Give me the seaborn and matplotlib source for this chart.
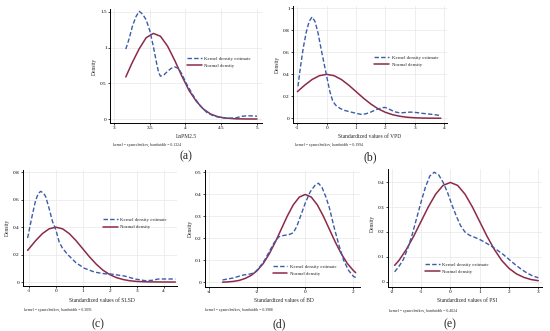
import numpy as np
import pandas as pd
import matplotlib
matplotlib.use("Agg")
import matplotlib.pyplot as plt
import seaborn as sns

sns.set_theme(style="white")
plt.rcParams['font.family'] = ['Liberation Serif', 'DejaVu Serif']

# ---------------- data ----------------
# (a) LnPM2.5
a_kde_x = [3.165, 3.21, 3.26, 3.31, 3.353, 3.4, 3.45, 3.5, 3.55, 3.6, 3.625, 3.65, 3.7, 3.75, 3.8, 3.85,
           3.9, 3.95, 4.0, 4.1, 4.2, 4.3, 4.4, 4.5, 4.6, 4.7, 4.8, 4.9, 5.0]
a_kde_y = [0.98, 1.12, 1.31, 1.44, 1.51, 1.47, 1.39, 1.24, 1.02, 0.76, 0.65, 0.60, 0.62, 0.67, 0.71, 0.73,
           0.71, 0.63, 0.52, 0.34, 0.19, 0.09, 0.04, 0.02, 0.01, 0.015, 0.04, 0.045, 0.04]
a_nor_x = [3.165, 3.25, 3.35, 3.45, 3.55, 3.65, 3.75, 3.85, 3.95, 4.05, 4.15, 4.25, 4.35, 4.45, 4.55,
           4.7, 4.85, 5.0]
a_nor_y = [0.59, 0.78, 0.98, 1.14, 1.20, 1.16, 1.02, 0.82, 0.60, 0.40, 0.25, 0.14, 0.07, 0.033, 0.014,
           0.003, 0.0005, 0.0]

# (b) VPD
b_kde_x = [-0.98, -0.9, -0.8, -0.7, -0.6, -0.5, -0.4, -0.3, -0.2, -0.1, 0.0, 0.1, 0.2, 0.3, 0.45, 0.6,
           0.8, 1.0, 1.2, 1.35, 1.5, 1.7, 1.9, 2.0, 2.15, 2.3, 2.5, 2.7, 2.85, 3.0, 3.25, 3.5, 3.7, 3.89]
b_kde_y = [0.29, 0.46, 0.64, 0.78, 0.88, 0.92, 0.88, 0.78, 0.64, 0.51, 0.38, 0.25, 0.16, 0.12, 0.09, 0.072,
           0.058, 0.045, 0.034, 0.042, 0.056, 0.08, 0.097, 0.098, 0.08, 0.06, 0.048, 0.053, 0.056, 0.054,
           0.045, 0.038, 0.032, 0.024]
b_nor_x = [-1.0, -0.75, -0.5, -0.25, 0.0, 0.25, 0.5, 0.75, 1.0, 1.25, 1.5, 1.75, 2.0, 2.25, 2.5, 2.75,
           3.0, 3.25, 3.5, 3.89]
b_nor_y = [0.242, 0.301, 0.352, 0.387, 0.399, 0.387, 0.352, 0.301, 0.242, 0.183, 0.130, 0.086, 0.054,
           0.032, 0.018, 0.009, 0.0044, 0.002, 0.0009, 0.0002]

# (c) SLSD
c_kde_x = [-1.05, -0.875, -0.75, -0.65, -0.56, -0.45, -0.375, -0.25, -0.125, 0.0, 0.125, 0.25, 0.44, 0.75,
           1.06, 1.44, 1.81, 2.06, 2.56, 2.94, 3.31, 3.56, 3.81, 4.44]
c_kde_y = [0.32, 0.487, 0.595, 0.645, 0.66, 0.645, 0.62, 0.535, 0.44, 0.38, 0.29, 0.245, 0.20, 0.14,
           0.10, 0.072, 0.06, 0.058, 0.043, 0.022, 0.01, 0.012, 0.022, 0.022]
c_nor_x = [-1.05, -0.75, -0.5, -0.25, 0.0, 0.25, 0.5, 0.75, 1.0, 1.25, 1.5, 1.75, 2.0, 2.25, 2.5, 2.75,
           3.0, 3.25, 3.5, 4.0, 4.44]
c_nor_y = [0.230, 0.301, 0.352, 0.387, 0.399, 0.387, 0.352, 0.301, 0.242, 0.183, 0.130, 0.086, 0.054,
           0.032, 0.018, 0.009, 0.0044, 0.002, 0.0009, 0.0001, 0.0]

# (d) BD
d_kde_x = [-3.45, -3.0, -2.6, -2.3, -2.1, -1.9, -1.7, -1.5, -1.3, -1.1, -0.9, -0.7, -0.5, -0.35, -0.2,
           0.0, 0.2, 0.4, 0.55, 0.7, 0.85, 1.0, 1.2, 1.4, 1.6, 1.8, 2.0, 2.1]
d_kde_y = [0.011, 0.02, 0.033, 0.038, 0.045, 0.07, 0.10, 0.14, 0.18, 0.207, 0.213, 0.216, 0.225, 0.255,
           0.30, 0.36, 0.41, 0.44, 0.45, 0.43, 0.39, 0.34, 0.25, 0.17, 0.10, 0.055, 0.028, 0.022]
d_nor_x = [-3.45, -3.25, -3.0, -2.75, -2.5, -2.25, -2.0, -1.75, -1.5, -1.25, -1.0, -0.75, -0.5, -0.25,
           0.0, 0.25, 0.5, 0.75, 1.0, 1.25, 1.5, 1.75, 2.0, 2.1]
d_nor_y = [0.001, 0.002, 0.0044, 0.009, 0.018, 0.032, 0.054, 0.086, 0.130, 0.183, 0.242, 0.301, 0.352,
           0.387, 0.399, 0.387, 0.352, 0.301, 0.242, 0.183, 0.130, 0.086, 0.054, 0.044]

# (e) PSI
e_kde_x = [-1.9, -1.75, -1.6, -1.45, -1.3, -1.15, -1.0, -0.85, -0.7, -0.55, -0.4, -0.25, -0.1, 0.05,
           0.2, 0.35, 0.5, 0.65, 0.8, 1.0, 1.2, 1.4, 1.6, 1.8, 2.0, 2.2, 2.4, 2.6, 2.8, 3.0]
e_kde_y = [0.04, 0.062, 0.09, 0.135, 0.19, 0.255, 0.32, 0.38, 0.425, 0.44, 0.43, 0.40, 0.36, 0.31,
           0.265, 0.225, 0.20, 0.187, 0.18, 0.17, 0.157, 0.143, 0.127, 0.11, 0.09, 0.07, 0.052, 0.036,
           0.024, 0.016]
e_nor_x = [-1.9, -1.75, -1.5, -1.25, -1.0, -0.75, -0.5, -0.25, 0.0, 0.25, 0.5, 0.75, 1.0, 1.25, 1.5,
           1.75, 2.0, 2.25, 2.5, 2.75, 3.0]
e_nor_y = [0.066, 0.086, 0.130, 0.183, 0.242, 0.301, 0.352, 0.387, 0.399, 0.387, 0.352, 0.301, 0.242,
           0.183, 0.130, 0.086, 0.054, 0.032, 0.018, 0.009, 0.0044]

xlabels = ["LnPM2.5", "Standardized values of VPD", "Standardized values of SLSD",
           "Standardized values of BD", "Standardized values of PSI"]
bandwidths = ["0.1324", "0.1994", "0.3091", "0.3988", "0.4024"]
captions = ["(a)", "(b)", "(c)", "(d)", "(e)"]
legend_labels = ["Kernel density estimate", "Normal density"]

W, H = 550, 331
fig = plt.figure(figsize=(W / 100, H / 100), dpi=100)
fig.patch.set_facecolor("white")

KDE_COLOR = "#3c5ca8"
NOR_COLOR = "#8c2a48"

panels = [
    dict(kde=(a_kde_x, a_kde_y), nor=(a_nor_x, a_nor_y), box=(110, 262, 9, 123),
         xlim=(2.944, 5.07), ylim=(-0.056, 1.542), xt=[3, 3.5, 4, 4.5, 5], yt=[0, 0.5, 1, 1.5],
         ylab=(94, 66), xlab=(186, 137), note=(113, 145), cap=(186, 156), leg=(187, 62)),
    dict(kde=(b_kde_x, b_kde_y), nor=(b_nor_x, b_nor_y), box=(293, 447, 6, 123),
         xlim=(-1.15, 4.10), ylim=(-0.043, 1.02), xt=[-1, 0, 1, 2, 3, 4], yt=[0, 0.2, 0.4, 0.6, 0.8, 1],
         ylab=(277, 64), xlab=(370, 136), note=(295, 145), cap=(370, 157), leg=(374, 61)),
    dict(kde=(c_kde_x, c_kde_y), nor=(c_nor_x, c_nor_y), box=(23, 177, 170, 286),
         xlim=(-1.22, 4.5), ylim=(-0.029, 0.815), xt=[-1, 0, 1, 2, 3, 4], yt=[0, 0.2, 0.4, 0.6, 0.8],
         ylab=(7, 227), xlab=(102, 301), note=(24, 310), cap=(98, 324), leg=(103, 223.5)),
    dict(kde=(d_kde_x, d_kde_y), nor=(d_nor_x, d_nor_y), box=(205, 360, 170, 287),
         xlim=(-4.18, 2.28), ylim=(-0.021, 0.51), xt=[-4, -2, 0, 2], yt=[0, 0.1, 0.2, 0.3, 0.4, 0.5],
         ylab=(190, 228), xlab=(284, 301), note=(205, 310), cap=(279, 324), leg=(272.5, 270)),
    dict(kde=(e_kde_x, e_kde_y), nor=(e_nor_x, e_nor_y), box=(388, 542, 169, 287),
         xlim=(-2.126, 3.126), ylim=(-0.021, 0.453), xt=[-2, -1, 0, 1, 2, 3], yt=[0, 0.1, 0.2, 0.3, 0.4],
         ylab=(372, 223), xlab=(467, 301), note=(389, 310.5), cap=(450, 324), leg=(425, 268)),
]


def fx(px):
    return px / W


def fy(py):
    return 1 - py / H


for i, p in enumerate(panels):
    l, r, t, b = p["box"]
    ax = fig.add_axes([fx(l), fy(b), (r - l) / W, (b - t) / H])
    ax.set_facecolor("white")
    df_k = pd.DataFrame({"x": p["kde"][0], "y": p["kde"][1]})
    df_n = pd.DataFrame({"x": p["nor"][0], "y": p["nor"][1]})
    sns.lineplot(data=df_n, x="x", y="y", ax=ax, color=NOR_COLOR, lw=1.1,
                 label=legend_labels[1], sort=False, estimator=None, zorder=2)
    sns.lineplot(data=df_k, x="x", y="y", ax=ax, color=KDE_COLOR, lw=1.0,
                 linestyle=(0, (3.2, 1.6)), label=legend_labels[0], sort=False,
                 estimator=None, zorder=3)
    ax.set_xlim(*p["xlim"])
    ax.set_ylim(*p["ylim"])
    ax.set_xticks(p["xt"])
    ax.set_yticks(p["yt"])
    ax.set_xticklabels([f"{v:g}" for v in p["xt"]])
    ax.set_yticklabels([f"{v:g}" for v in p["yt"]])
    ax.grid(True, color="#e8e8e8", lw=0.5)
    ax.set_axisbelow(True)
    for s in ["top", "right"]:
        ax.spines[s].set_visible(False)
    for s in ["left", "bottom"]:
        ax.spines[s].set_visible(True)
        ax.spines[s].set_color("black")
        ax.spines[s].set_linewidth(0.7)
    ax.tick_params(axis="both", which="major", direction="out", length=1.3, width=0.5,
                   pad=1.0, labelsize=3.8, colors="black", bottom=True, left=True)
    ax.set_xlabel("")
    ax.set_ylabel("")

    handles, labels = ax.get_legend_handles_labels()
    order = [labels.index(legend_labels[0]), labels.index(legend_labels[1])]
    ax.legend([handles[k] for k in order], [labels[k] for k in order],
              loc="center left", bbox_to_anchor=(fx(p["leg"][0]), fy(p["leg"][1])),
              bbox_transform=fig.transFigure, frameon=False, fontsize=3.5,
              handlelength=3.0, handletextpad=0.6, labelspacing=0.55,
              borderpad=0, borderaxespad=0)

    fig.text(fx(p["ylab"][0]), fy(p["ylab"][1]), "Density", rotation=90,
             ha="center", va="center", fontsize=4.0)
    fig.text(fx(p["xlab"][0]), fy(p["xlab"][1]), xlabels[i], ha="center", va="center",
             fontsize=4.0)
    fig.text(fx(p["note"][0]), fy(p["note"][1]),
             f"kernel = epanechnikov, bandwidth = {bandwidths[i]}", ha="left", va="center",
             fontsize=2.8)
    fig.text(fx(p["cap"][0]), fy(p["cap"][1]), captions[i], ha="center", va="center",
             fontsize=8.5)

fig.savefig("out.png", dpi=100, facecolor="white")
